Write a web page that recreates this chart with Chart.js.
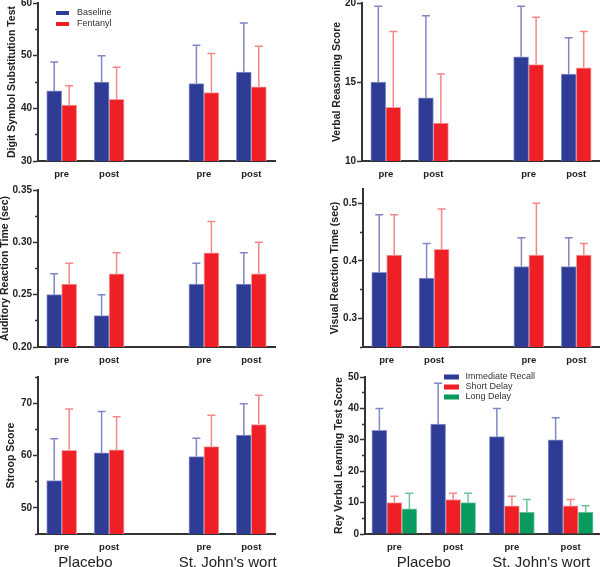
<!DOCTYPE html>
<html>
<head>
<meta charset="utf-8">
<script src="https://cdn.jsdelivr.net/npm/chart.js@4.4.1/dist/chart.umd.min.js"></script>
<style>
  html, body { margin: 0; padding: 0; background: #fff; }
  #figure { position: relative; width: 600px; height: 567px; overflow: hidden; }
  .panel { position: absolute; }
</style>
</head>
<body>
<div id="figure"></div>
<script>
// categories
const phaseLabels = ['pre', 'post', '', 'pre', 'post'];
const reyPhaseLabels = ['pre', 'post', 'pre', 'post'];
const groupLabels = ['Placebo', "St. John's wort"];

// means and SD (upper error bar), order: placebo pre, placebo post, SJW pre, SJW post
const dsstBaseline = [43.3, 45.0, 44.7, 46.9];
const dsstBaselineSD = [5.5, 5.0, 7.3, 9.3];
const dsstFentanyl = [40.6, 41.7, 43.0, 44.1];
const dsstFentanylSD = [3.7, 6.1, 7.4, 7.7];

const verbalBaseline = [15.0, 14.0, 16.6, 15.5];
const verbalBaselineSD = [4.8, 5.2, 3.2, 2.3];
const verbalFentanyl = [13.4, 12.4, 16.1, 15.9];
const verbalFentanylSD = [4.8, 3.1, 3.0, 2.3];

const auditoryBaseline = [0.25, 0.23, 0.26, 0.26];
const auditoryBaselineSD = [0.02, 0.02, 0.02, 0.03];
const auditoryFentanyl = [0.26, 0.27, 0.29, 0.27];
const auditoryFentanylSD = [0.02, 0.02, 0.03, 0.03];

const visualBaseline = [0.38, 0.37, 0.39, 0.39];
const visualBaselineSD = [0.10, 0.06, 0.05, 0.05];
const visualFentanyl = [0.41, 0.42, 0.41, 0.41];
const visualFentanylSD = [0.07, 0.07, 0.09, 0.02];

const stroopBaseline = [55.2, 60.5, 59.8, 63.9];
const stroopBaselineSD = [8.0, 7.9, 3.5, 6.0];
const stroopFentanyl = [61.0, 61.1, 61.7, 65.9];
const stroopFentanylSD = [7.9, 6.3, 6.0, 5.6];

const reyImmediate = [33, 35, 31, 30];
const reyImmediateSD = [7, 13, 9, 7];
const reyShort = [10, 11, 9, 9];
const reyShortSD = [2, 2, 3, 2];
const reyLong = [8, 10, 7, 7];
const reyLongSD = [5, 3, 4, 2];

const FONT = '"Liberation Sans", Arial, sans-serif';
Chart.defaults.font.family = FONT;

const BLUE = { fill: '#2E3C96', edge: '#8C95CC', err: '#7F88C6' };
const RED = { fill: '#EE1F25', edge: '#F6A0A2', err: '#F4878A' };
const GREEN = { fill: '#089A5E', edge: '#80CCA8', err: '#6CC49C' };

// insert the empty slot between the two treatment groups
const gap = arr => [arr[0], arr[1], null, arr[2], arr[3]];

function barSet(label, values, sd, color) {
    return {
        label: label,
        data: values,
        errors: sd,
        backgroundColor: color.fill,
        borderColor: color.edge,
        errorColor: color.err,
        borderWidth: 1,
        barThickness: 15
    };
}

// upper error bars with a cap
const errorBars = {
    id: 'errorBars',
    afterDatasetsDraw(chart) {
        const {ctx, scales: {y}} = chart;
        ctx.save();
        ctx.lineWidth = 1.5;
        chart.data.datasets.forEach((ds, i) => {
            const meta = chart.getDatasetMeta(i);
            ctx.strokeStyle = ds.errorColor;
            meta.data.forEach((bar, j) => {
                const v = ds.data[j];
                if (v == null) return;
                const top = y.getPixelForValue(v + ds.errors[j]);
                const x = bar.x;
                ctx.beginPath();
                ctx.moveTo(x, bar.y);
                ctx.lineTo(x, top);
                ctx.moveTo(x - 4, top);
                ctx.lineTo(x + 4, top);
                ctx.stroke();
            });
        });
        ctx.restore();
    }
};

function legendPlugin(cfg) {
    return {
        id: 'panelLegend',
        afterDraw(chart) {
            if (!cfg) return;
            const ctx = chart.ctx;
            ctx.save();
            ctx.font = '9px ' + FONT;
            ctx.textBaseline = 'middle';
            chart.data.datasets.forEach((ds, i) => {
                const cy = cfg.y + i * cfg.spacing;
                ctx.fillStyle = ds.backgroundColor;
                ctx.fillRect(cfg.x, cy - cfg.boxH / 2, cfg.boxW, cfg.boxH);
                ctx.fillStyle = '#333';
                ctx.fillText(ds.label, cfg.x + cfg.textGap, cy);
            });
            ctx.restore();
        }
    };
}

function groupPlugin(spans) {
    return {
        id: 'groupLabels',
        afterDraw(chart) {
            if (!spans) return;
            const {ctx, chartArea, scales: {x}} = chart;
            ctx.save();
            ctx.font = '15px ' + FONT;
            ctx.fillStyle = '#222';
            ctx.textAlign = 'center';
            ctx.textBaseline = 'middle';
            spans.forEach((span, k) => {
                const cx = (x.getPixelForValue(span[0]) + x.getPixelForValue(span[1])) / 2;
                ctx.fillText(groupLabels[k], cx, chartArea.bottom + 29);
            });
            ctx.restore();
        }
    };
}

const panels = [
    {
        left: 0, top: -7, width: 300, padRight: 25, height: 198, axisW: 38, titlePad: 7.25, xAxisH: 30, xPad: 8,
        title: 'Digit Symbol Substitution Test', labels: phaseLabels,
        sets: [barSet('Baseline', gap(dsstBaseline), gap(dsstBaselineSD), BLUE),
               barSet('Fentanyl', gap(dsstFentanyl), gap(dsstFentanylSD), RED)],
        y: { min: 30, max: 60, step: 5, major: 10, dec: 0 },
        legend: { x: 56, y: 20, spacing: 11, boxW: 13, boxH: 4, textGap: 21 }
    },
    {
        left: 300, top: -7, width: 300, padRight: 0, height: 198, axisW: 62, titlePad: 32.25, xAxisH: 30, xPad: 8,
        title: 'Verbal Reasoning Score', labels: phaseLabels,
        sets: [barSet('Baseline', gap(verbalBaseline), gap(verbalBaselineSD), BLUE),
               barSet('Fentanyl', gap(verbalFentanyl), gap(verbalFentanylSD), RED)],
        y: { min: 10, max: 20, step: 5, major: 5, dec: 0 }
    },
    {
        left: 0, top: 180, width: 300, padRight: 25, height: 197, axisW: 38, titlePad: 0, xAxisH: 30, xPad: 8,
        title: 'Auditory Reaction Time (sec)', labels: phaseLabels,
        sets: [barSet('Baseline', gap(auditoryBaseline), gap(auditoryBaselineSD), BLUE),
               barSet('Fentanyl', gap(auditoryFentanyl), gap(auditoryFentanylSD), RED)],
        y: { min: 0.2, max: 0.35, step: 0.025, major: 0.05, dec: 2 }
    },
    {
        left: 300, top: 179, width: 300, padRight: 0, height: 198, axisW: 63, titlePad: 30.25, xAxisH: 30, xPad: 8,
        title: 'Visual Reaction Time (sec)', labels: phaseLabels,
        sets: [barSet('Baseline', gap(visualBaseline), gap(visualBaselineSD), BLUE),
               barSet('Fentanyl', gap(visualFentanyl), gap(visualFentanylSD), RED)],
        y: { min: 0.25, max: 0.525, step: 0.05, major: 0.1, dec: 1 }
    },
    {
        left: 0, top: 367, width: 300, padRight: 25, height: 200, axisW: 38, titlePad: 6.25, xAxisH: 33, xPad: 8,
        title: 'Stroop Score', labels: phaseLabels,
        sets: [barSet('Baseline', gap(stroopBaseline), gap(stroopBaselineSD), BLUE),
               barSet('Fentanyl', gap(stroopFentanyl), gap(stroopFentanylSD), RED)],
        y: { min: 45, max: 75, step: 5, major: 10, dec: 0 },
        groups: [[0, 1], [3, 4]]
    },
    {
        left: 300, top: 367, width: 300, padRight: 0, height: 200, axisW: 65, titlePad: 33.75, xAxisH: 33, xPad: 8,
        title: 'Rey Verbal Learning Test Score', labels: reyPhaseLabels,
        sets: [barSet('Immediate Recall', reyImmediate, reyImmediateSD, BLUE),
               barSet('Short Delay', reyShort, reyShortSD, RED),
               barSet('Long Delay', reyLong, reyLongSD, GREEN)],
        y: { min: 0, max: 50, step: 5, major: 10, dec: 0 },
        legend: { x: 144, y: 10, spacing: 10, boxW: 15, boxH: 5, textGap: 21.5 },
        groups: [[0, 1], [2, 3]]
    }
];

const figure = document.getElementById('figure');

panels.forEach(p => {
    const box = document.createElement('div');
    box.className = 'panel';
    box.style.left = p.left + 'px';
    box.style.top = p.top + 'px';
    box.style.width = p.width + 'px';
    box.style.height = p.height + 'px';
    const canvas = document.createElement('canvas');
    box.appendChild(canvas);
    figure.appendChild(box);

    const isMajor = v => Math.abs(v / p.y.major - Math.round(v / p.y.major)) < 1e-6;

    new Chart(canvas, {
        type: 'bar',
        data: { labels: p.labels, datasets: p.sets },
        options: {
            responsive: true,
            maintainAspectRatio: false,
            animation: false,
            layout: { padding: { top: 10, left: 0, right: p.padRight, bottom: 0 } },
            plugins: {
                legend: { display: false },
                tooltip: { enabled: false }
            },
            scales: {
                x: {
                    grid: { display: false, drawTicks: false },
                    border: { color: '#333', width: 2 },
                    ticks: {
                        font: { size: 9.5, weight: 'bold' },
                        color: '#222',
                        padding: p.xPad,
                        autoSkip: false,
                        maxRotation: 0
                    },
                    afterFit: s => { s.height = p.xAxisH; }
                },
                y: {
                    min: p.y.min,
                    max: p.y.max,
                    border: { color: '#333', width: 2 },
                    grid: {
                        drawOnChartArea: false,
                        tickLength: 5,
                        tickWidth: 1.5,
                        tickColor: '#333',
                        tickBorderDash: c => (c.tick && !isMajor(c.tick.value)) ? [0, 2, 3, 50] : []
                    },
                    ticks: {
                        stepSize: p.y.step,
                        includeBounds: false,
                        autoSkip: false,
                        maxTicksLimit: 20,
                        padding: 1,
                        font: { size: 10, weight: 'bold' },
                        color: '#222',
                        callback: v => isMajor(v) ? Number(v).toFixed(p.y.dec) : ''
                    },
                    title: {
                        display: true,
                        text: p.title,
                        color: '#222',
                        font: { size: 10.5, weight: 'bold', lineHeight: 1 },
                        padding: { top: p.titlePad, bottom: 0 }
                    },
                    afterFit: s => { s.width = p.axisW; }
                }
            }
        },
        plugins: [errorBars, legendPlugin(p.legend), groupPlugin(p.groups)]
    });
});
</script>
</body>
</html>
